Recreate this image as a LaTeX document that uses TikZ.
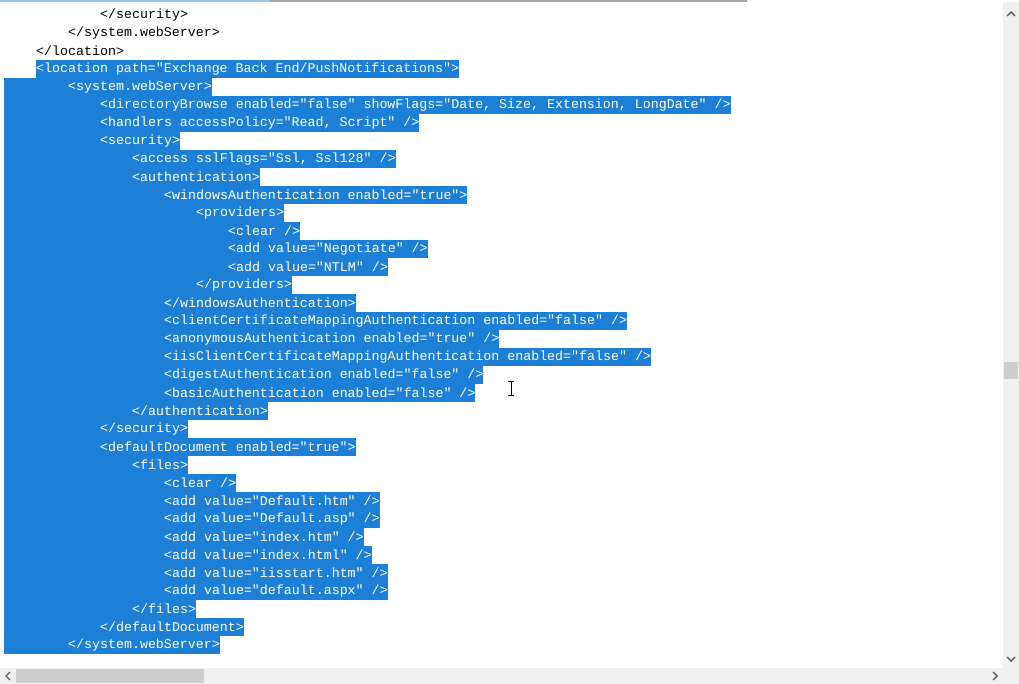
\documentclass[tikz,border=0pt]{standalone}
\usepackage{fontspec}
\setmonofont{Liberation Mono}
\definecolor{selblue}{HTML}{1E7FD6}
\definecolor{barbg}{HTML}{F0F0F0}
\definecolor{thumb}{HTML}{CDCDCD}
\definecolor{arrowgrey}{HTML}{606060}
\begin{document}
\begin{tikzpicture}[x=1pt,y=-1pt]
    \tikzstyle{line}=[anchor=west, inner xsep=0pt, inner ysep=0pt, minimum height=18pt,
        font=\fontsize{13.3}{18}\ttfamily]
    \tikzstyle{selline}=[line, fill=selblue, text=white]
    \tikzstyle{scrollarrow}=[draw=arrowgrey, line width=1.4pt]

    \useasboundingbox[fill=white] (0,0) rectangle (1019,684);

    % Top edge
    \fill[selblue!45] (0,0) rectangle (270,2);
    \fill[thumb!80!black] (270,0) rectangle (747,2);

    % Unselected lines
    \foreach \lv/\txt [count=\i from 0] in {3/{</security>}, 2/{</system.webServer>}, 1/{</location>}}
        \node[line] (L\i) at (4+32*\lv, 15+18*\i) {\txt};

    % First selected line
    \node[selline] (L3) at (36,69) {<location path="Exchange Back End/PushNotifications">\hspace{3pt}};

    % Remaining selected lines
    \foreach \lv/\txt [count=\i from 4] in {
        2/{<system.webServer>},
        3/{<directoryBrowse enabled="false" showFlags="Date, Size, Extension, LongDate" />},
        3/{<handlers accessPolicy="Read, Script" />},
        3/{<security>},
        4/{<access sslFlags="Ssl, Ssl128" />},
        4/{<authentication>},
        5/{<windowsAuthentication enabled="true">},
        6/{<providers>},
        7/{<clear />},
        7/{<add value="Negotiate" />},
        7/{<add value="NTLM" />},
        6/{</providers>},
        5/{</windowsAuthentication>},
        5/{<clientCertificateMappingAuthentication enabled="false" />},
        5/{<anonymousAuthentication enabled="true" />},
        5/{<iisClientCertificateMappingAuthentication enabled="false" />},
        5/{<digestAuthentication enabled="false" />},
        5/{<basicAuthentication enabled="false" />},
        4/{</authentication>},
        3/{</security>},
        3/{<defaultDocument enabled="true">},
        4/{<files>},
        5/{<clear />},
        5/{<add value="Default.htm" />},
        5/{<add value="Default.asp" />},
        5/{<add value="index.htm" />},
        5/{<add value="index.html" />},
        5/{<add value="iisstart.htm" />},
        5/{<add value="default.aspx" />},
        4/{</files>},
        3/{</defaultDocument>},
        2/{</system.webServer>}}
        \node[selline] (L\i) at (4, 15+18*\i) {\hspace*{\lv\dimexpr32pt\relax}\txt\hspace{4pt}};

    % Text cursor
    \draw[line width=1pt] (508,381) -- (514,381) (511,381) -- (511,395) (508,395) -- (514,395);

    % Vertical scrollbar
    \fill[barbg] (1003,2) rectangle (1019,668);
    \fill[thumb] (1004,362) rectangle (1018,379);
    \draw[scrollarrow] (1007,16) -- (1011,12) -- (1015,16);
    \draw[scrollarrow] (1007,657) -- (1011,661) -- (1015,657);

    % Horizontal scrollbar
    \fill[barbg] (0,668) rectangle (1003,684);
    \fill[thumb] (16,669) rectangle (204,683);
    \draw[scrollarrow] (10,672) -- (6,676) -- (10,680);
    \draw[scrollarrow] (993,672) -- (997,676) -- (993,680);
    \fill[barbg] (1003,668) rectangle (1019,684);
\end{tikzpicture}
\end{document}
